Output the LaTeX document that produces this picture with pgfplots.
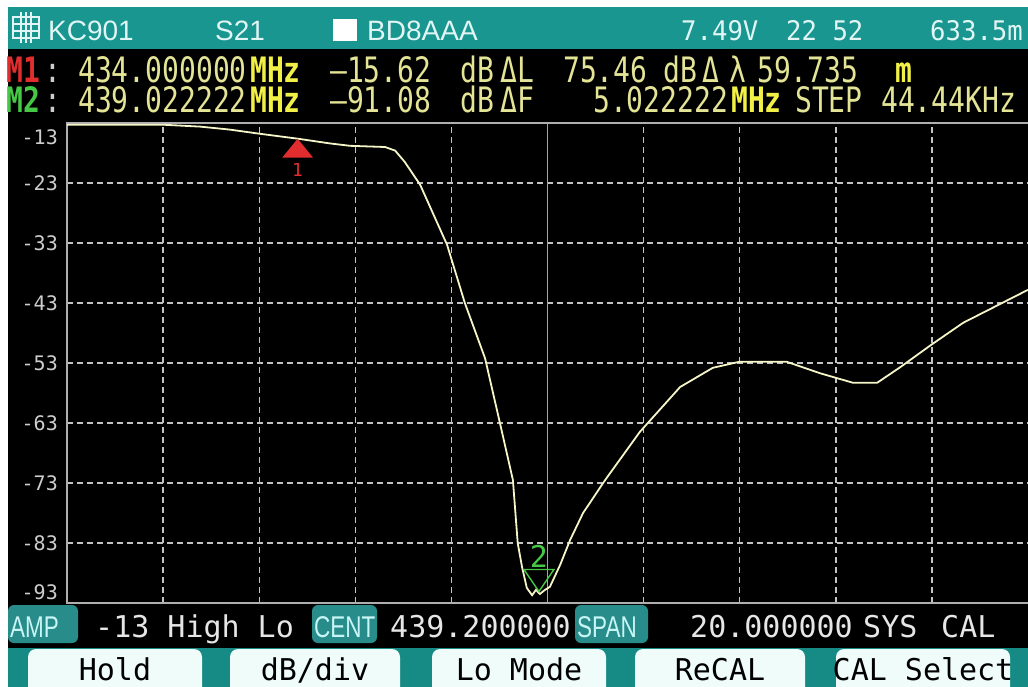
\documentclass[border=0pt]{standalone}
\usepackage{pgfplots}
\pgfplotsset{compat=1.18}
\usepackage{fontspec}
\setmainfont{DejaVu Sans}
\newfontfamily\dvm{DejaVu Sans Mono}
\newfontfamily\dvmN[FakeStretch=0.8]{DejaVu Sans Mono}
\newfontfamily\dvmH[FakeStretch=0.95]{DejaVu Sans Mono}
\newfontfamily\lib{Liberation Sans}
\newfontfamily\libN[FakeStretch=0.75]{Liberation Sans}

\definecolor{hdrteal}{RGB}{24,150,143}
\definecolor{barteal}{RGB}{22,138,132}
\definecolor{boxteal}{RGB}{40,140,138}
\definecolor{btnw}{RGB}{240,252,250}
\definecolor{hdrtxt}{RGB}{225,245,245}
\definecolor{valy}{RGB}{228,228,150}
\definecolor{unity}{RGB}{240,240,70}
\definecolor{mred}{RGB}{225,45,45}
\definecolor{mgreen}{RGB}{70,200,70}
\definecolor{gridc}{RGB}{195,195,195}
\definecolor{tracec}{RGB}{245,245,200}
\definecolor{lbl}{RGB}{205,205,205}
\definecolor{wtxt}{RGB}{230,230,230}
\definecolor{boxtxt}{RGB}{200,245,245}

\newcommand\mrow{\dvmN\fontsize{35}{38}\selectfont}
\newcommand\hrow{\dvmH\fontsize{27}{30}\selectfont}
\newcommand\brow{\dvm\fontsize{30}{32}\selectfont}

\pgfdeclareplotmark{mkup}{%
  \pgfpathmoveto{\pgfpoint{0pt}{0pt}}%
  \pgfpathlineto{\pgfpoint{-15.5pt}{-19pt}}%
  \pgfpathlineto{\pgfpoint{15.5pt}{-19pt}}%
  \pgfpathclose\pgfusepathqfill}
\pgfdeclareplotmark{mkdown}{%
  \pgfpathmoveto{\pgfpoint{0pt}{0pt}}%
  \pgfpathlineto{\pgfpoint{-15pt}{22pt}}%
  \pgfpathlineto{\pgfpoint{15pt}{22pt}}%
  \pgfpathclose\pgfusepathqstroke}

\begin{document}
\begin{tikzpicture}
\path[use as bounding box] (0pt,0pt) rectangle (1028pt,-686pt);
\begin{scope}[x=1pt,y=-1pt]
  \tikzset{t/.style={anchor=base west, inner sep=0pt},
           m/.style={anchor=base west, inner sep=0pt, text height=25pt, text depth=1pt}}
  % backgrounds
  \fill[white] (0,0) rectangle (1028,686);
  \fill[hdrteal] (8,7) rectangle (1040,49);
  \fill[black] (8,49) rectangle (1040,648);
  \fill[barteal] (8,648) rectangle (1040,700);
  % header icon
  \begin{scope}[hdrtxt, line width=1.6pt]
    \draw (13,17) rectangle (39,38);
    \draw (21,12) -- (21,43) (26,12) -- (26,43) (31,12) -- (31,43);
    \draw (13,24) -- (39,24) (13,31) -- (39,31);
  \end{scope}
  \node[t, text=hdrtxt, font=\lib\fontsize{28}{30}\selectfont] at (48,40) {KC901};
  \node[t, text=hdrtxt, font=\lib\fontsize{28}{30}\selectfont] at (215,40) {S21};
  \fill[white] (333,19) rectangle (357,41);
  \node[t, text=hdrtxt, font=\lib\fontsize{28}{30}\selectfont] at (367,40) {BD8AAA};
  \node[t, text=hdrtxt, font=\hrow] at (681,40) {7.49V};
  \node[t, text=hdrtxt, font=\hrow] at (786,40) {22 52};
  \node[t, text=hdrtxt, font=\hrow] at (930,40) {633.5m};
  % M1 row
  \node[m, text=mred, font=\mrow\bfseries] at (6,82) {M1};
  \node[m, text=lbl, font=\mrow] at (44,82) {:};
  \node[m, text=valy, font=\mrow] at (78,82) {434.000000};
  \node[m, text=unity, font=\mrow\bfseries] at (250,82) {MHz};
  \node[m, text=valy, font=\mrow] at (330,82) {–15.62};
  \node[m, text=valy, font=\mrow] at (460,82) {dB};
  \node[m, text=valy, font=\mrow] at (500,82) {ΔL};
  \node[m, text=valy, font=\mrow] at (563,82) {75.46};
  \node[m, text=valy, font=\mrow] at (663,82) {dB};
  \node[m, text=valy, font=\mrow] at (702,82) {Δ};
  \node[m, text=valy, font=\mrow] at (729,82) {λ};
  \node[m, text=valy, font=\mrow] at (757,82) {59.735};
  \node[m, text=unity, font=\mrow\bfseries] at (895,82) {m};
  % M2 row
  \node[m, text=mgreen, font=\mrow\bfseries] at (6,112) {M2};
  \node[m, text=lbl, font=\mrow] at (44,112) {:};
  \node[m, text=valy, font=\mrow] at (78,112) {439.022222};
  \node[m, text=unity, font=\mrow\bfseries] at (250,112) {MHz};
  \node[m, text=valy, font=\mrow] at (330,112) {–91.08};
  \node[m, text=valy, font=\mrow] at (460,112) {dB};
  \node[m, text=valy, font=\mrow] at (500,112) {ΔF};
  \node[m, text=valy, font=\mrow] at (593,112) {5.022222};
  \node[m, text=unity, font=\mrow\bfseries] at (731,112) {MHz};
  \node[m, text=valy, font=\mrow] at (795,112) {STEP};
  \node[m, text=valy, font=\mrow] at (881,112) {44.44KHz};
  % bottom status row
  \fill[boxteal, rounded corners=6pt] (8,605) rectangle (78,643);
  \fill[boxteal, rounded corners=6pt] (312,605) rectangle (377,643);
  \fill[boxteal, rounded corners=6pt] (575,605) rectangle (648,643);
  \node[t, text=boxtxt, font=\libN\fontsize{30}{32}\selectfont] at (10,637) {AMP};
  \node[t, text=boxtxt, font=\libN\fontsize{30}{32}\selectfont] at (314,637) {CENT};
  \node[t, text=boxtxt, font=\libN\fontsize{30}{32}\selectfont] at (577,637) {SPAN};
  \node[t, text=wtxt, font=\brow] at (95,637) {-13 High Lo};
  \node[t, text=wtxt, font=\brow] at (390,637) {439.200000};
  \node[t, text=wtxt, font=\brow] at (690,637) {20.000000};
  \node[t, text=wtxt, font=\brow] at (863,637) {SYS};
  \node[t, text=wtxt, font=\brow] at (941,637) {CAL};
  % buttons
  \foreach \a/\b/\s in {28/202/Hold, 230/400/dB\slash div, 432/606/Lo Mode, 635/805/ReCAL, 836/1010/CAL Select}{
    \fill[btnw, rounded corners=8pt] (\a,649) rectangle (\b,700);
    \node[anchor=base, inner sep=0pt, text=black, font=\brow] at ({(\a+\b)/2},680) {\s};
  }
\end{scope}

\begin{axis}[
  at={(67pt,-603pt)}, anchor=south west,
  scale only axis, width=961pt, height=480pt,
  xmin=429.2, xmax=449.2, ymin=-93, ymax=-13,
  clip=false,
  axis line style={draw=none},
  major tick length=0pt,
  xtick={431.2,433.2,435.2,437.2,441.2,443.2,445.2,447.2},
  xticklabel=\empty,
  extra x ticks={439.2},
  extra x tick labels={},
  extra x tick style={grid=major, major grid style={solid, draw=gridc!85!black, line width=1.4pt}},
  ytick={-93,-83,-73,-63,-53,-43,-33,-23,-13},
  yticklabels={{\raisebox{10.5pt}[\height][\depth]{-93}},-83,-73,-63,-53,-43,-33,-23,{\raisebox{-14.5pt}[\height][\depth]{-13}}},
  yticklabel style={anchor=east, inner sep=0pt, xshift=-9pt, text=lbl, font=\dvm\fontsize{20}{22}\selectfont},
  grid=major,
  major grid style={draw=gridc, line width=1.4pt, dash pattern=on 6pt off 4pt},
]
\draw[gridc!90!black, line width=1.6pt] (rel axis cs:1,1) -- (rel axis cs:0,1) -- (rel axis cs:0,0) -- (rel axis cs:1,0);
\addplot[tracec, line width=1.8pt, mark=none] coordinates {
(429.2,-13.3)(431.24,-13.3)(431.97,-13.6)(432.59,-14.1)(433.22,-14.8)(433.99,-15.6)
(434.67,-16.4)(435.09,-16.8)(435.82,-17.0)(436.03,-17.6)(436.23,-19.5)(436.55,-23.3)
(437.11,-33.3)(437.48,-43.0)(437.90,-52.2)(438.21,-63.0)(438.48,-72.5)(438.58,-83.0)
(438.67,-87.0)(438.77,-90.5)(438.88,-91.7)(438.96,-90.8)(439.04,-91.5)(439.15,-90.8)
(439.25,-90.3)(439.46,-86.7)(439.67,-82.5)(439.94,-78.0)(440.40,-72.5)(441.12,-64.5)
(441.96,-57.0)(442.64,-53.8)(443.19,-52.8)(444.18,-52.8)(444.87,-54.7)(445.56,-56.3)
(446.06,-56.3)(446.54,-53.7)(447.18,-50.0)(447.85,-46.3)(449.2,-40.8)
};
\addplot[only marks, mark=mkup, mred, mark options={fill=mred}] coordinates {(434.0,-15.62)};
\addplot[only marks, mark=mkdown, mgreen, mark options={line width=1.4pt}] coordinates {(439.022,-91.08)};
\node[anchor=north, text=mred, inner sep=0pt, font=\dvm\fontsize{18}{20}\selectfont] at (axis cs:434.0,-15.62) [yshift=-24pt] {1};
\node[anchor=south, text=mgreen, inner sep=0pt, font=\dvm\fontsize{30}{32}\selectfont] at (axis cs:439.022,-91.08) [yshift=24pt] {2};
\end{axis}
\end{tikzpicture}
\end{document}
